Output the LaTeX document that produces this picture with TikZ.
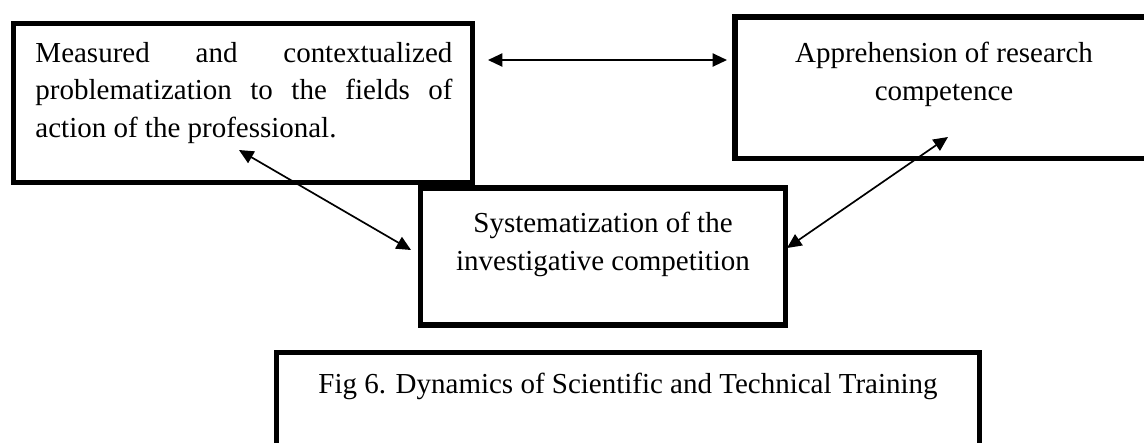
\documentclass[tikz,border=0pt]{standalone}
\usepackage{fontspec}
\setmainfont{Liberation Serif}
\usetikzlibrary{arrows.meta,fit}
\tikzset{
  box/.style={draw, line width=2.1pt, inner sep=0pt},
  txt/.style={inner sep=0pt, font=\fontsize{12pt}{15.7pt}\selectfont},
  link/.style={{Triangle[length=6pt,width=5.5pt]}-{Triangle[length=6pt,width=5.5pt]}, line width=0.7pt}
}
\begin{document}
\begin{tikzpicture}[x=0.414pt,y=-0.414pt]
\useasboundingbox (0,0) rectangle (1144,442);

\node[box, fit={(13.5,23.5) (472.5,182.5)}] (lbox) {};
\node[box, fit={(735,17) (1152,158.5)}] (rbox) {};
\node[box, fit={(420.5,188) (785.5,325)}] (mbox) {};
\node[box, fit={(276.5,352.5) (979.5,452)}] (cbox) {};

\node[txt, anchor=base west, text width=172.6pt, align=justify] (ltext) at (35,62)
{Measured and contextualized\linebreak problematization to the fields of\linebreak action of the professional.};
\node[txt, anchor=base, align=center] (rtext) at (944,100)
{Apprehension of research\\competence};
\node[txt, anchor=base, align=center] (mtext) at (603,270)
{Systematization of the\\investigative competition};
\node[txt, anchor=base] (ctext) at (628,393)
{Fig 6. Dynamics of Scientific and Technical Training};

\coordinate (h1) at (488,60);
\coordinate (h2) at (727,60);
\coordinate (l1) at (239,150);
\coordinate (l2) at (411,250);
\coordinate (r1) at (948,137);
\coordinate (r2) at (787,248);

\draw[link] (h1) -- (h2);
\draw[link] (l1) -- (l2);
\draw[link] (r1) -- (r2);

\end{tikzpicture}
\end{document}
